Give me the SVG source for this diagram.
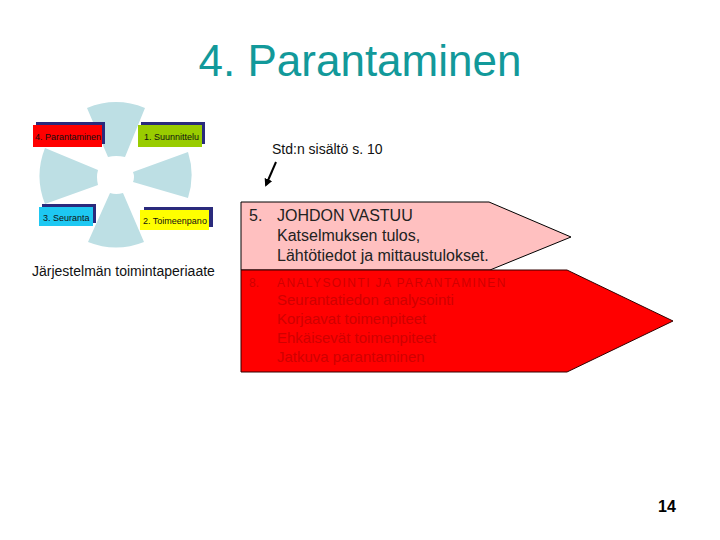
<svg xmlns="http://www.w3.org/2000/svg" width="720" height="540" viewBox="0 0 720 540">
<style>
text{font-family:"Liberation Sans",Arial,sans-serif}
.wedge{fill:#bddfe4}
.shadow{fill:#2a2a7c}
.lbl{font-size:9px;fill:#111}
.t5{font-size:16px;fill:#222}
.t8{font-size:15px;fill:#d00000}
</style>
<defs>
<marker id="ah" markerWidth="8" markerHeight="8" refX="6" refY="4" orient="auto" markerUnits="userSpaceOnUse">
<path d="M0,0 L8,4 L0,8 Z" fill="#000"/>
</marker>
</defs>
<rect width="720" height="540" fill="#fff"/>
<text x="360" y="76" font-size="44" fill="#12999a" text-anchor="middle">4. Parantaminen</text>

<g id="wheel">
<path class="wedge" d="M108,157 L87,108 A76,76 0 0,1 145,108 L125,157 Q116,155 108,157 Z"/>
<path class="wedge" d="M110,193 L88,242 A76,76 0 0,0 144,242 L123,193 Q116,195 110,193 Z"/>
<path class="wedge" d="M98,170 L45,148 A76,76 0 0,0 45,204 L98,185 Q96,177 98,170 Z"/>
<path class="wedge" d="M133,172 L188,152 A76,76 0 0,1 188,198 L133,182 Q135,177 133,172 Z"/>
</g>

<g id="box4">
<rect class="shadow" x="36" y="122" width="69" height="22"/>
<rect x="33" y="125" width="69" height="22" fill="#ff0000"/>
<text class="lbl" x="35" y="140" fill="#3a0000">4. Parantaminen</text>
</g>
<g id="box1">
<rect class="shadow" x="141" y="122" width="64" height="22"/>
<rect x="138" y="125" width="64" height="22" fill="#99cc00"/>
<text class="lbl" x="144" y="140">1. Suunnittelu</text>
</g>
<g id="box3">
<rect class="shadow" x="42" y="204" width="54" height="19"/>
<rect x="39" y="207" width="54" height="19" fill="#1ec8f2"/>
<text class="lbl" x="43" y="221">3. Seuranta</text>
</g>
<g id="box2">
<rect class="shadow" x="144" y="207" width="69" height="20"/>
<rect x="140" y="210" width="69" height="20" fill="#ffff00"/>
<text class="lbl" x="143" y="224">2. Toimeenpano</text>
</g>

<text x="32" y="276" font-size="14" fill="#111">Järjestelmän toimintaperiaate</text>

<text x="272" y="154" font-size="14" fill="#111">Std:n sisältö s. 10</text>

<g id="connectors">
<line x1="276" y1="162" x2="266" y2="185" stroke="#000" stroke-width="2" marker-end="url(#ah)"/>
</g>

<g id="step5">
<polygon points="241,202 489,202 571,237 490,270 241,270" fill="#ffc0c0" stroke="#000" stroke-width="1"/>
<text class="t5" x="249" y="221">5.</text>
<text class="t5" x="277" y="221">JOHDON VASTUU</text>
<text class="t5" x="277" y="241">Katselmuksen tulos,</text>
<text class="t5" x="277" y="261">Lähtötiedot ja mittaustulokset.</text>
</g>

<g id="step8">
<polygon points="241,270 567,270 673,321 567,372 241,372" fill="#ff0000" stroke="#330000" stroke-width="1"/>
<text x="249" y="287" font-size="12" fill="#d00000">8.</text>
<text x="277" y="287" font-size="12" fill="#d00000" letter-spacing="1.4">ANALYSOINTI JA PARANTAMINEN</text>
<text class="t8" x="277" y="305">Seurantatiedon analysointi</text>
<text class="t8" x="277" y="324">Korjaavat toimenpiteet</text>
<text class="t8" x="277" y="343">Ehkäisevät toimenpiteet</text>
<text class="t8" x="277" y="362">Jatkuva parantaminen</text>
</g>

<text x="667" y="512" font-size="16" font-weight="bold" fill="#000" text-anchor="middle">14</text>
</svg>
